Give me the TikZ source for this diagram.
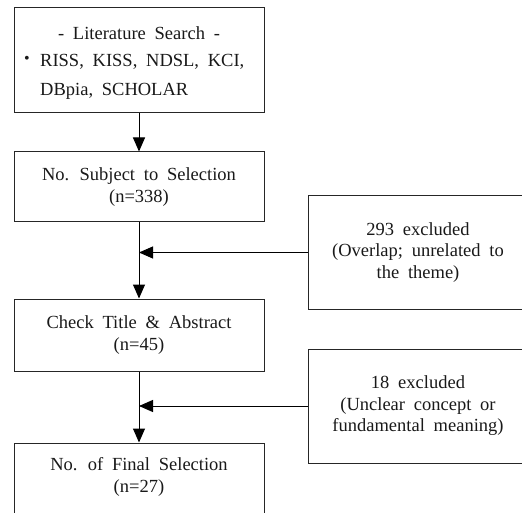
\documentclass[tikz,border=0pt]{standalone}
\usepackage{fontspec}
\setmainfont[WordSpace=1.9]{Liberation Serif}
\usetikzlibrary{arrows.meta}
\begin{document}
\begin{tikzpicture}[x=1pt,y=-1pt,
  box/.style={draw=black!85,line width=1pt,minimum width=250pt,inner sep=0pt},
  sidebox/.style={draw=black!85,line width=1pt,minimum width=220pt,minimum height=114pt,inner sep=0pt,align=center,font={\fontsize{18.5}{21.5}\selectfont},text=black!90},
  txt/.style={font={\fontsize{18.5}{21.5}\selectfont},align=center,text=black!90,inner sep=0pt},
  flow/.style={draw=black,line width=1pt,-{Triangle[length=14pt,width=12pt]}}]
\useasboundingbox (0,0) rectangle (522,513);
\clip (0,0) rectangle (522,513);
% left boxes
\node[box,minimum height=105pt] (b1) at (139,60.5) {};
\node[txt] (t1a) at (139,33) {- Literature Search -};
\node[txt,anchor=west] (t1b) at (40,62) {RISS, KISS, NDSL, KCI,};
\node[txt,anchor=west] (t1c) at (40,91) {DBpia, SCHOLAR};
\node[txt] (t1d) at (27,60) {\fontsize{16}{16}\selectfont\textbullet};
\node[box,minimum height=70pt,txt] (b2) at (139,187) {No. Subject to Selection\\(n=338)};
\node[box,minimum height=72pt,txt] (b3) at (139,335) {Check Title \& Abstract\\(n=45)};
\node[box,minimum height=100pt] (b4) at (139,493) {};
\node[txt] (t4) at (139,477) {No. of Final Selection\\(n=27)};
% side boxes
\node[sidebox] (s1) at (418,252.5) {293 excluded\\(Overlap; unrelated to\\the theme)};
\node[sidebox] (s2) at (418,406) {18 excluded\\(Unclear concept or\\fundamental meaning)};
% connectors
\draw[flow] (b1.south) -- (b2.north);
\draw[flow] (b2.south) -- (b3.north);
\draw[flow] (b3.south) -- (b4.north);
\coordinate (j1) at (b2.south |- s1.west);
\coordinate (j2) at (b3.south |- s2.west);
\draw[flow] (s1.west) -- (j1);
\draw[flow] (s2.west) -- (j2);
\end{tikzpicture}
\end{document}
